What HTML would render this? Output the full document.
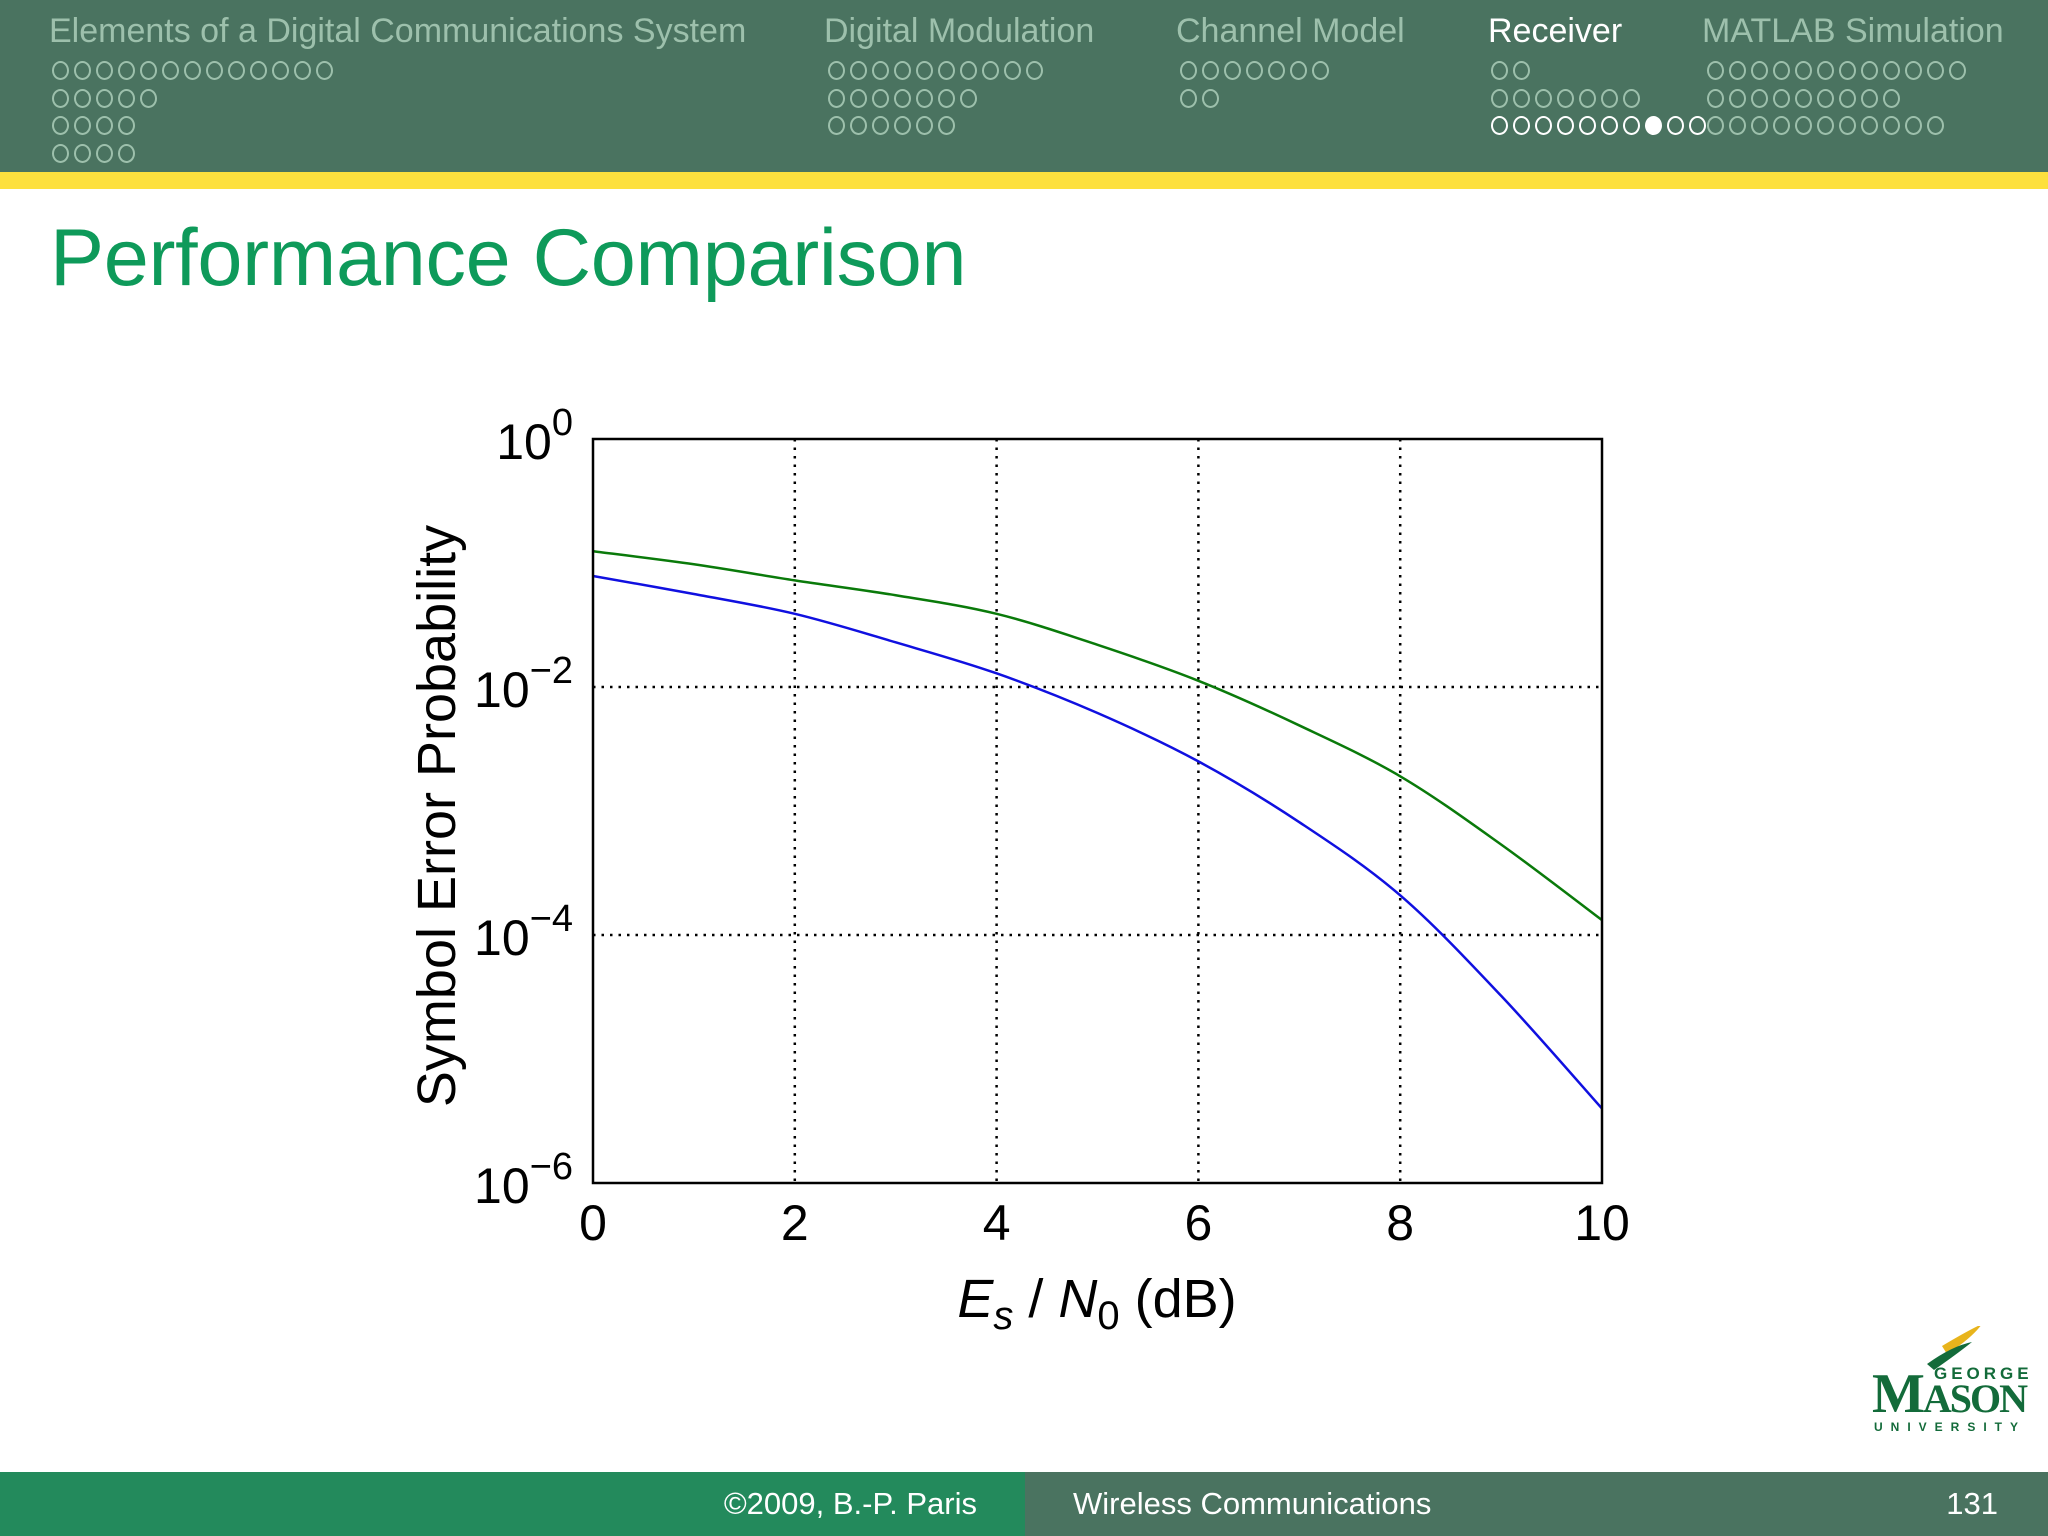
<!DOCTYPE html>
<html><head><meta charset="utf-8">
<style>
html,body{margin:0;padding:0}
body{width:2048px;height:1536px;position:relative;background:#fff;font-family:"Liberation Sans",sans-serif;overflow:hidden}
#hdr{position:absolute;left:0;top:0;width:2048px;height:172px;background:#4a7360}
#ybar{position:absolute;left:0;top:172px;width:2048px;height:17px;background:#fde03e}
.sec{position:absolute;top:12px;font-size:34px;color:#9dc0ac;white-space:nowrap}
.dot{position:absolute;width:17px;height:19px;border:2px solid #9dc0ac;border-radius:50%;box-sizing:border-box}
.dot.w{border-color:#fff}
.dot.f{border-color:#fff;background:#fff}
#title{position:absolute;left:50px;top:212px;font-size:81px;color:#0e9a5a;letter-spacing:-0.3px}
#foot1{position:absolute;left:0;top:1472px;width:1025px;height:64px;background:#238a5c;color:#fff;font-size:31px}
#foot2{position:absolute;left:1025px;top:1472px;width:1023px;height:64px;background:#4a7360;color:#fff;font-size:31px}
</style></head><body>
<div id="hdr">
 <div class="sec" style="left:49px">Elements of a Digital Communications System</div>
 <div class="sec" style="left:824px">Digital Modulation</div>
 <div class="sec" style="left:1176px">Channel Model</div>
 <div class="sec" style="left:1488px;color:#fff">Receiver</div>
 <div class="sec" style="left:1702px">MATLAB Simulation</div>
</div>
<div id="ybar"></div>
<div id="title">Performance Comparison</div>

<svg id="chart" width="2048" height="1536" style="position:absolute;left:0;top:0"></svg>

<div style="position:absolute;left:1872px;top:1326px;width:166px;height:110px">
 <svg width="166" height="110"><path d="M70 20 Q95 5 110 -2 Q100 12 75 28 Z" fill="#e8b41c"/><path d="M55 38 Q80 20 100 16 Q85 28 62 44 Z" fill="#136b3a"/></svg>
 <div style="position:absolute;left:0;top:40px;font-family:'Liberation Serif',serif;font-weight:bold;color:#136b3a;font-size:56px;letter-spacing:-2px;line-height:56px">M<span style="font-size:40px">ASON</span></div>
 <div style="position:absolute;left:62px;top:38px;font-weight:bold;color:#136b3a;font-size:17px;letter-spacing:4px">GEORGE</div>
 <div style="position:absolute;left:2px;top:94px;font-weight:bold;color:#136b3a;font-size:12px;letter-spacing:8px">UNIVERSITY</div>
</div>

<div id="foot1"><span style="position:absolute;right:48px;top:14px">©2009, B.-P. Paris</span></div>
<div id="foot2"><span style="position:absolute;left:48px;top:14px">Wireless Communications</span><span style="position:absolute;right:50px;top:14px">131</span></div>

<script>
const navRows=[[52,0,13,''],[52,1,5,''],[52,2,4,''],[52,3,4,''],
[828,0,10,''],[828,1,7,''],[828,2,6,''],
[1180,0,7,''],[1180,1,2,''],
[1491,0,2,''],[1491,1,7,''],[1491,2,10,'r'],
[1707,0,12,''],[1707,1,9,''],[1707,2,11,'']];
const hdr=document.getElementById('hdr');
navRows.forEach(r=>{for(let i=0;i<r[2];i++){const d=document.createElement('div');
 d.className='dot'+(r[3]==='r'?(i===7?' f':' w'):'');
 d.style.left=(r[0]+i*22)+'px';d.style.top=(61+r[1]*27.5)+'px';
 
 
 hdr.appendChild(d);}});

const xCats = [0,1,2,3,4,5,6,7,8,9,10];
const blueLog = [-1.105,-1.25,-1.41,-1.64,-1.89,-2.21,-2.6,-3.09,-3.68,-4.49,-5.4];
const greenLog = [-0.905,-1.01,-1.14,-1.26,-1.41,-1.66,-1.95,-2.31,-2.72,-3.27,-3.88];
const xTicks = [0,2,4,6,8,10];
const yTicks = [0,-2,-4,-6];

const NS="http://www.w3.org/2000/svg";
const svg=document.getElementById('chart');
const L=593,R=1602,T=439,B=1183;
const sx=v=>L+(v-0)/(10-0)*(R-L);
const sy=v=>T+(0-v)/6*(B-T);
function mk(t,a){const e=document.createElementNS(NS,t);for(const k in a)e.setAttribute(k,a[k]);svg.appendChild(e);return e;}

xTicks.forEach(v=>{
 if(v>0&&v<10){const g=mk('line',{x1:sx(v),x2:sx(v),y1:T,y2:B,stroke:'#000','stroke-width':2.5,'stroke-dasharray':'2.5 6'});
 
 }
 const t=mk('text',{x:sx(v),y:B+57,'font-size':50,'text-anchor':'middle','font-family':'Liberation Sans, sans-serif'});
 t.textContent=v;
 
 
});
yTicks.forEach(v=>{
 if(v<0&&v>-6){const g=mk('line',{x1:L,x2:R,y1:sy(v),y2:sy(v),stroke:'#000','stroke-width':2.5,'stroke-dasharray':'2.5 6'});
 
 }
 const t=mk('text',{x:L-20,y:sy(v)+20,'font-size':50,'text-anchor':'end','font-family':'Liberation Sans, sans-serif'});
 t.innerHTML='10<tspan dy="-24" font-size="38">'+(v===0?'0':'\u2212'+(-v))+'</tspan>';
 
 
});
function series(vals,color,name){
 const P=xCats.map((x,i)=>[sx(x),sy(vals[i])]);
 let d='M'+P[0][0]+','+P[0][1];
 for(let i=0;i<P.length-1;i++){const p0=P[Math.max(i-1,0)],p1=P[i],p2=P[i+1],p3=P[Math.min(i+2,P.length-1)];
  d+=' C'+(p1[0]+(p2[0]-p0[0])/6)+','+(p1[1]+(p2[1]-p0[1])/6)+' '+(p2[0]-(p3[0]-p1[0])/6)+','+(p2[1]-(p3[1]-p1[1])/6)+' '+p2[0]+','+p2[1];}
 const p=mk('path',{d:d,fill:'none',stroke:color,'stroke-width':2.5});
 
 
}
series(greenLog,'#0a7a0a','green-curve');
series(blueLog,'#1010e0','blue-curve');
const box=mk('rect',{x:L,y:T,width:R-L,height:B-T,fill:'none',stroke:'#000','stroke-width':2.5});


const xl=mk('text',{x:1097,y:1317,'font-size':54,'text-anchor':'middle','font-family':'Liberation Sans, sans-serif'});
xl.innerHTML='<tspan font-style="italic">E</tspan><tspan font-style="italic" font-size="40" dy="12">s</tspan><tspan dy="-12"> / </tspan><tspan font-style="italic">N</tspan><tspan font-size="40" dy="12">0</tspan><tspan dy="-12"> (dB)</tspan>';


const yl=mk('text',{x:0,y:0,'font-size':54,'text-anchor':'middle','font-family':'Liberation Sans, sans-serif',transform:'translate(455,816) rotate(-90)'});
yl.textContent='Symbol Error Probability';


</script>
</body></html>
